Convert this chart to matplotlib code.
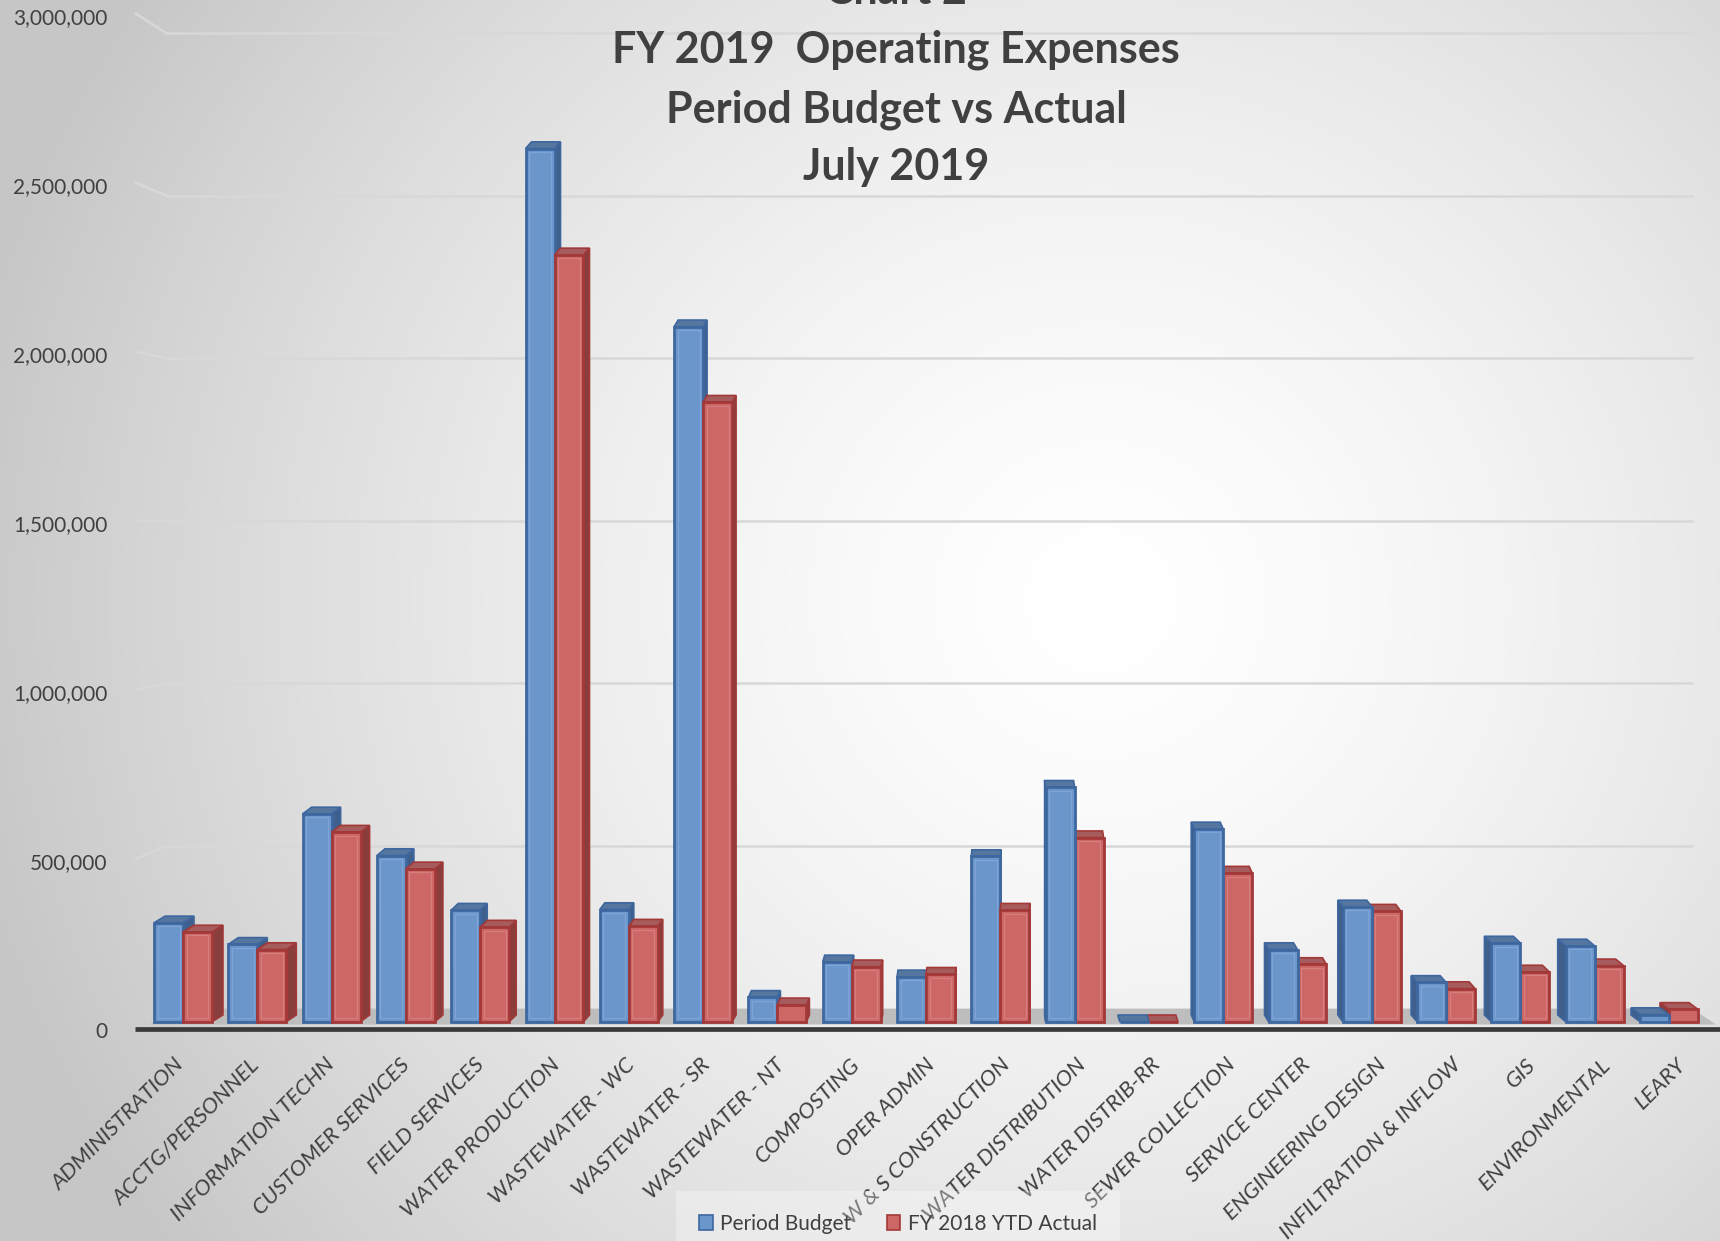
import numpy as np
import matplotlib
matplotlib.use("Agg")
import matplotlib.pyplot as plt
from matplotlib.patches import Polygon, Patch

# ---- data -------------------------------------------------------------
departments = [
    "ADMINISTRATION", "ACCTG/PERSONNEL", "INFORMATION TECHN", "CUSTOMER SERVICES",
    "FIELD SERVICES", "WATER PRODUCTION", "WASTEWATER - WC", "WASTEWATER - SR",
    "WASTEWATER - NT", "COMPOSTING", "OPER ADMIN", "W & S CONSTRUCTION",
    "WATER DISTRIBUTION", "WATER DISTRIB-RR", "SEWER COLLECTION", "SERVICE CENTER",
    "ENGINEERING DESIGN", "INFILTRATION & INFLOW", "GIS", "ENVIRONMENTAL", "LEARY",
]
period_budget = [
    304000, 238000, 639000, 511000, 343000, 2685000, 345000, 2137000,
    75000, 184000, 138000, 508000, 721000, 0, 593000, 222000,
    353000, 121000, 242000, 233000, 22000,
]
ytd_actual = [
    276000, 222000, 583000, 470000, 291000, 2358000, 294000, 1905000,
    52000, 169000, 146000, 343000, 566000, 0, 457000, 176000,
    340000, 102000, 153000, 172000, 38000,
]
series_names = ["Period Budget", "FY 2018 YTD Actual"]
y_ticks = [0, 500000, 1000000, 1500000, 2000000, 2500000, 3000000]
title_lines = ["Chart 2", "FY 2019  Operating Expenses", "Period Budget vs Actual", "July 2019"]

# ---- layout constants (pixels) ---------------------------------------
W, H, DPI = 1720, 1241, 100
X0_PX, PITCH = 183.0, 74.3          # first category centre, category spacing
Y0_PX, PX_PER_VAL = 1021.7, 0.3252e-3
AX_BOTTOM_PX = 1070.0
WALL_OFFSET = (Y0_PX - 1008.6) / PX_PER_VAL   # back wall sits above the bar base
TOP_DEPTH = 6.7 / PX_PER_VAL                  # height of a bar's top face
BAR_W = 0.39

TXT = "#404040"
BLUE, BLUE_EDGE, BLUE_TOP, BLUE_SIDE = "#6b96cc", "#3e67a0", "#55779f", "#3f5f8c"
RED, RED_EDGE, RED_TOP, RED_SIDE = "#cc6766", "#a33838", "#a65c5c", "#8a3d3d"
BLUE_HI, RED_HI = "#82a8d8", "#d98483"

plt.rcParams["font.family"] = ["Lato", "DejaVu Sans"]

fig = plt.figure(figsize=(W / DPI, H / DPI), dpi=DPI)

# radial background shading
bg = fig.add_axes([0, 0, 1, 1], zorder=-10)
yy, xx = np.mgrid[0:H, 0:W]
r = np.hypot(xx - 1100, (yy - 600) * 1.05) / 1150.0
t = np.clip(r, 0, 1) ** 1.5
shade = 1.0 - (1.0 - 0.78) * t
bg.imshow(np.dstack([shade] * 3), aspect="auto", extent=(0, W, H, 0))
bg.set_axis_off()

# main plotting axes (data space)
ax = fig.add_axes([0, (H - AX_BOTTOM_PX) / H, 1, AX_BOTTOM_PX / H])
ax.set_xlim(-X0_PX / PITCH, (W - X0_PX) / PITCH)
ax.set_ylim((Y0_PX - AX_BOTTOM_PX) / PX_PER_VAL, Y0_PX / PX_PER_VAL)
ax.patch.set_alpha(0)
for s in ax.spines.values():
    s.set_visible(False)
ax.tick_params(axis="y", left=False, labelleft=False)


def px_x(p):
    return (p - X0_PX) / PITCH


def px_y(p):
    return (Y0_PX - p) / PX_PER_VAL


# floor
floor = Polygon([(px_x(150), px_y(1024.5)), (px_x(1716), px_y(1024.5)),
                 (px_x(1692), px_y(1008.6)), (px_x(168), px_y(1008.6))],
                closed=True, facecolor="#bdbdbd", edgecolor="none", zorder=1)
ax.add_patch(floor)
ax.plot([px_x(135), px_x(1720)], [px_y(1029), px_y(1029)], color="#3a3a3a",
        lw=3.4, solid_capstyle="butt", zorder=2)

# gridlines on the back wall, with perspective connectors to the tick labels
LBL_Y0, LBL_PX_PER_VAL = 1030.0, 0.3381e-3
for v in y_ticks[1:]:
    gy = v + WALL_OFFSET
    ax.plot([px_x(166), px_x(1692)], [gy, gy], color="#d8d8d8", lw=1.8, zorder=1)
    ly = LBL_Y0 - v * LBL_PX_PER_VAL - 2
    ax.plot([px_x(136), px_x(166)], [px_y(ly), gy], color="#d8d8d8", lw=1.8, zorder=1)

# y tick labels on their own (front plane) scale
ax_lbl = fig.add_axes([110 / W, (H - AX_BOTTOM_PX) / H, 0.001, AX_BOTTOM_PX / H])
ax_lbl.set_ylim((LBL_Y0 - AX_BOTTOM_PX) / LBL_PX_PER_VAL, LBL_Y0 / LBL_PX_PER_VAL)
ax_lbl.set_yticks(y_ticks)
ax_lbl.set_yticklabels([f"{v:,.0f}" for v in y_ticks])
ax_lbl.tick_params(axis="y", length=0, pad=2, labelsize=15, labelcolor=TXT)
ax_lbl.tick_params(axis="x", bottom=False, labelbottom=False)
ax_lbl.patch.set_alpha(0)
for s in ax_lbl.spines.values():
    s.set_visible(False)

# bars with pseudo-3D top and side faces
x = np.arange(len(departments))


def faces(x_left, value, dxp, top_c, side_c, edge_c, z):
    dx = dxp / PITCH
    x_right = x_left + BAR_W
    top = Polygon([(x_left, value), (x_right, value),
                   (x_right + dx, value + TOP_DEPTH), (x_left + dx, value + TOP_DEPTH)],
                  closed=True, facecolor=top_c, edgecolor=edge_c, lw=1.2, zorder=z)
    xs = x_right if dx > 0 else x_left
    side = Polygon([(xs, 0), (xs + dx, TOP_DEPTH), (xs + dx, value + TOP_DEPTH), (xs, value)],
                   closed=True, facecolor=side_c, edgecolor=edge_c, lw=1.2, zorder=z)
    ax.add_patch(side)
    ax.add_patch(top)


inset = 3.5 / PITCH
for i in x:
    dxp = (11.0 - i) * 1.0
    if dxp == 0:
        dxp = 0.5
    order = [0, 1] if dxp > 0 else [1, 0]
    for k, s in enumerate(order):
        z = 3 + 3 * k
        vals = period_budget if s == 0 else ytd_actual
        left = i - BAR_W if s == 0 else i
        if s == 0:
            faces(left, vals[i], dxp, BLUE_TOP, BLUE_SIDE, BLUE_EDGE, z)
            fc, ec, hi = BLUE, BLUE_EDGE, BLUE_HI
        else:
            faces(left, vals[i], dxp, RED_TOP, RED_SIDE, RED_EDGE, z)
            fc, ec, hi = RED, RED_EDGE, RED_HI
        ax.bar(left, vals[i], width=BAR_W, align="edge",
               color=fc, edgecolor=ec, linewidth=2.0, zorder=z + 1)
        # soft bevel line inside the front face
        if vals[i] > 3 * TOP_DEPTH:
            ax.bar(left + inset, vals[i] - 2 * 3.5 / PX_PER_VAL, bottom=3.5 / PX_PER_VAL,
                   width=BAR_W - 2 * inset, align="edge", facecolor="none",
                   edgecolor=hi, linewidth=0.9, alpha=0.8, zorder=z + 2)

# category labels (perspective spreads them slightly wider than the bars)
ax.set_xticks(px_x(181.0 + 75.1 * x))
ax.set_xticklabels(departments, rotation=45, ha="right", va="center",
                   rotation_mode="anchor", fontsize=16, style="italic", color=TXT)
ax.tick_params(axis="x", length=0, pad=-6)

# title
for line, base in zip(title_lines, [4, 63, 122, 180]):
    fig.text(896 / W, 1 - base / H, line, ha="center", va="baseline",
             fontsize=31, fontweight="bold", color=TXT)

# legend
handles = [Patch(facecolor=BLUE, edgecolor=BLUE_EDGE, lw=1.2),
           Patch(facecolor=RED, edgecolor=RED_EDGE, lw=1.2)]
leg = fig.legend(handles, series_names, loc="center", bbox_to_anchor=(898 / W, 1 - 1224 / H),
                 ncol=2, frameon=True, fontsize=15, handlelength=0.65, handleheight=0.75,
                 handletextpad=0.35, columnspacing=1.7, borderpad=1.1, labelcolor=TXT)
leg.get_frame().set_facecolor("white")
leg.get_frame().set_alpha(0.3)
leg.get_frame().set_edgecolor("none")
leg.get_frame().set_boxstyle("square", pad=0)

fig.savefig("out.png", dpi=DPI)
